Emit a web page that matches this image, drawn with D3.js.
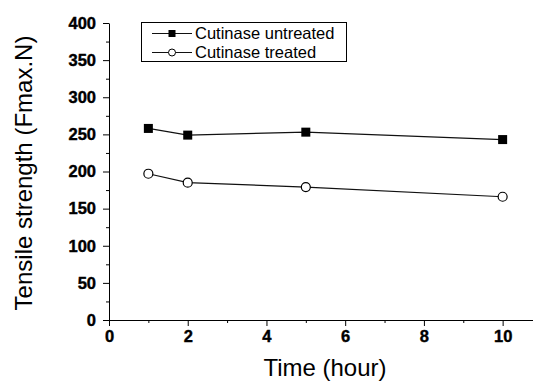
<!DOCTYPE html>
<html>
<head>
<meta charset="utf-8"/>
<script src="https://d3js.org/d3.v7.min.js"></script>
<style>
    body { margin: 0; background: #fff; }
    svg { display: block; font-family: "Liberation Sans", Arial, sans-serif; }
</style>
</head>
<body>
<svg width="533" height="382"></svg>
<script>
    // datos
    const hours = [1, 2, 5, 10];
    const untreated = [258, 249, 253, 243];
    const treated = [197, 185, 179, 166];
    const seriesNames = ["Cutinase untreated", "Cutinase treated"];
    const xTicks = [0, 2, 4, 6, 8, 10];
    const xMinor = [1, 3, 5, 7, 9, 11];
    const yTicks = [0, 50, 100, 150, 200, 250, 300, 350, 400];
    const yMinor = [25, 75, 125, 175, 225, 275, 325, 375];

    const svg = d3.select("svg");

    const x = d3.scaleLinear().domain([0, 11]).range([109, 542]);
    const y = d3.scaleLinear().domain([0, 400]).range([320, 23]);

    // ticks menores
    svg.append("g")
        .attr("transform", "translate(0,320)")
        .call(d3.axisBottom(x).tickValues(xMinor).tickSize(3).tickFormat(""))
        .call(g => g.select(".domain").remove());
    svg.append("g")
        .attr("transform", "translate(109,0)")
        .call(d3.axisLeft(y).tickValues(yMinor).tickSize(3).tickFormat(""))
        .call(g => g.select(".domain").remove());

    // estilo de los numeros del eje
    function boldLabels(g) {
        g.attr("font-family", null).attr("font-size", null);
        g.selectAll("text")
            .attr("fill", "#000")
            .style("font-family", "'Liberation Sans', Arial, sans-serif")
            .style("font-size", "16.5px")
            .style("font-weight", "700")
            .attr("stroke", "#000")
            .attr("stroke-width", 0.4);
    }

    // ejes principales
    svg.append("g")
        .attr("transform", "translate(0,320)")
        .call(d3.axisBottom(x).tickValues(xTicks).tickSize(6).tickSizeOuter(0).tickPadding(4))
        .call(boldLabels);

    svg.append("g")
        .attr("transform", "translate(109,0)")
        .call(d3.axisLeft(y).tickValues(yTicks).tickSize(6).tickSizeOuter(0).tickPadding(7))
        .call(boldLabels);

    svg.selectAll(".domain, .tick line").attr("stroke", "#000");

    // titulos
    svg.append("text")
        .attr("x", 325).attr("y", 376)
        .attr("text-anchor", "middle")
        .style("font-size", "24px")
        .text("Time (hour)");

    svg.append("text")
        .attr("transform", "translate(32,173) rotate(-90)")
        .attr("text-anchor", "middle")
        .style("font-size", "24px")
        .text("Tensile strength (Fmax.N)");

    // lineas
    const line = d3.line().x(d => x(d[0])).y(d => y(d[1]));
    const dataA = hours.map((h, i) => [h, untreated[i]]);
    const dataB = hours.map((h, i) => [h, treated[i]]);

    [dataA, dataB].forEach(d => {
        svg.append("path")
            .attr("d", line(d))
            .attr("fill", "none")
            .attr("stroke", "#111")
            .attr("stroke-width", 1.2);
    });

    svg.selectAll("rect.untreated")
        .data(dataA).enter()
        .append("rect")
        .attr("class", "untreated")
        .attr("x", d => x(d[0]) - 4.5)
        .attr("y", d => y(d[1]) - 4.5)
        .attr("width", 9).attr("height", 9)
        .attr("fill", "#000");

    svg.selectAll("circle.treated")
        .data(dataB).enter()
        .append("circle")
        .attr("class", "treated")
        .attr("cx", d => x(d[0]))
        .attr("cy", d => y(d[1]))
        .attr("r", 4.5)
        .attr("fill", "#fff")
        .attr("stroke", "#000")
        .attr("stroke-width", 1.2);

    // leyenda
    const legend = svg.append("g");
    legend.append("rect")
        .attr("x", 141.5).attr("y", 22.5)
        .attr("width", 205).attr("height", 39)
        .attr("fill", "#fff").attr("stroke", "#000").attr("stroke-width", 1);

    const rowsY = [33.5, 52.5];
    seriesNames.forEach((name, i) => {
        const g = legend.append("g").attr("transform", "translate(0," + rowsY[i] + ")");
        g.append("line")
            .attr("x1", 152).attr("x2", 192)
            .attr("y1", 0).attr("y2", 0)
            .attr("stroke", "#111").attr("stroke-width", 1.2);
        if (i === 0) {
            g.append("rect").attr("x", 168.5).attr("y", -3.5).attr("width", 7).attr("height", 7).attr("fill", "#000");
        } else {
            g.append("circle").attr("cx", 172).attr("cy", 0).attr("r", 3.5)
                .attr("fill", "#fff").attr("stroke", "#000").attr("stroke-width", 1);
        }
        g.append("text")
            .attr("x", 195).attr("y", 0).attr("dy", "0.35em")
            .style("font-size", "16.5px")
            .text(name);
    });
</script>
</body>
</html>
